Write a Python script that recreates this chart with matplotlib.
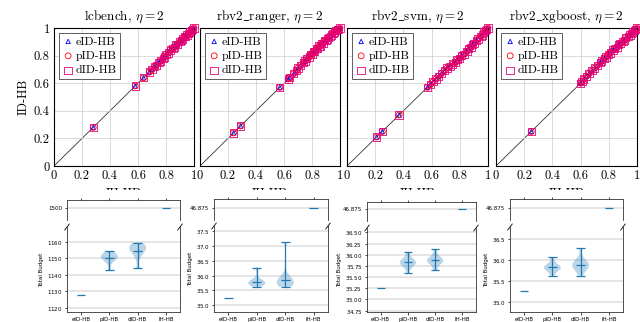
import matplotlib.pyplot as plt
from matplotlib.patches import Rectangle

plt.rcParams['mathtext.fontset'] = 'cm'
plt.rcParams['axes.formatter.use_mathtext'] = True

W, H = 640, 322

# top row: ID-HB vs IH-HB (normalised)
TITLES = ['lcbench', r'rbv2$\_$ranger', r'rbv2$\_$svm', r'rbv2$\_$xgboost']
METHODS = ['eID-HB', 'pID-HB', 'dID-HB']
GRID_TICKS = [0, 0.2, 0.4, 0.6, 0.8, 1]
GRID_LABELS = ['0', '0.2', '0.4', '0.6', '0.8', '1']

ih_lcbench = [0.28, 0.58, 0.64, 0.68, 0.70, 0.72, 0.73, 0.75, 0.76, 0.78, 0.79, 0.80,
              0.82, 0.83, 0.85, 0.86, 0.87, 0.88, 0.90, 0.91, 0.92, 0.93, 0.94, 0.95,
              0.96, 0.97, 0.98, 0.99, 1.00]
id_lcbench = [0.28, 0.58, 0.64, 0.68, 0.70, 0.72, 0.73, 0.75, 0.76, 0.78, 0.79, 0.81,
              0.82, 0.84, 0.85, 0.86, 0.88, 0.88, 0.90, 0.91, 0.92, 0.94, 0.94, 0.95,
              0.96, 0.97, 0.98, 0.99, 1.00]

ih_ranger = [0.24, 0.29, 0.57, 0.63, 0.64, 0.67, 0.69, 0.70, 0.72, 0.74, 0.75, 0.76,
             0.78, 0.79, 0.80, 0.81, 0.82, 0.83, 0.84, 0.85, 0.86, 0.87, 0.88, 0.89,
             0.90, 0.91, 0.92, 0.93, 0.94, 0.95, 0.96, 0.97, 0.98, 0.99, 1.00]
id_ranger = [0.24, 0.29, 0.57, 0.63, 0.64, 0.67, 0.69, 0.71, 0.73, 0.75, 0.76, 0.78,
             0.79, 0.81, 0.81, 0.83, 0.83, 0.85, 0.85, 0.87, 0.87, 0.89, 0.89, 0.91,
             0.91, 0.92, 0.93, 0.94, 0.95, 0.96, 0.97, 0.98, 0.99, 0.99, 1.00]

ih_svm = [0.21, 0.25, 0.37, 0.57, 0.59, 0.61, 0.63, 0.65, 0.67, 0.69, 0.71, 0.73,
          0.75, 0.77, 0.78, 0.80, 0.81, 0.83, 0.85, 0.86, 0.88, 0.89, 0.90, 0.92,
          0.93, 0.95, 0.96, 0.97, 0.98, 0.99, 1.00]
id_svm = [0.21, 0.25, 0.37, 0.57, 0.59, 0.61, 0.63, 0.65, 0.67, 0.69, 0.71, 0.72,
          0.74, 0.75, 0.77, 0.78, 0.80, 0.81, 0.83, 0.85, 0.86, 0.88, 0.89, 0.91,
          0.92, 0.94, 0.95, 0.97, 0.98, 0.99, 1.00]

ih_xgb = [0.25, 0.60, 0.61, 0.62, 0.64, 0.66, 0.68, 0.70, 0.72, 0.74, 0.75, 0.77,
          0.78, 0.80, 0.81, 0.83, 0.84, 0.86, 0.87, 0.88, 0.90, 0.91, 0.92, 0.94,
          0.95, 0.96, 0.97, 0.98, 0.99, 1.00]
id_xgb = [0.25, 0.60, 0.61, 0.63, 0.65, 0.67, 0.69, 0.71, 0.73, 0.75, 0.76, 0.78,
          0.79, 0.81, 0.82, 0.84, 0.85, 0.86, 0.88, 0.89, 0.90, 0.91, 0.93, 0.94,
          0.95, 0.96, 0.97, 0.98, 0.99, 1.00]

SCATTER = [(ih_lcbench, id_lcbench), (ih_ranger, id_ranger), (ih_svm, id_svm), (ih_xgb, id_xgb)]

# bottom row: total budget per method
CATEGORIES = ['eID-HB', 'pID-HB', 'dID-HB', 'IH-HB']
e_budget = [1128, 35.25, 35.25, 35.25]
ih_budget = [1500, 46.875, 46.875, 46.875]

p_lcbench = [1143, 1148, 1149, 1150, 1150.5, 1151, 1151, 1152, 1152.5, 1153, 1154.5]
d_lcbench = [1144, 1151, 1153, 1154.5, 1155.5, 1156, 1156.5, 1157, 1157.5, 1158, 1159.5]
p_ranger = [35.62, 35.68, 35.72, 35.74, 35.75, 35.76, 35.77, 35.78, 35.80, 35.83, 36.27]
d_ranger = [35.62, 35.66, 35.68, 35.70, 35.72, 35.73, 35.74, 35.75, 35.76, 35.77, 35.78,
            35.79, 35.80, 35.81, 35.83, 35.85, 35.88, 35.92, 36.00, 37.13]
p_svm = [35.60, 35.72, 35.78, 35.80, 35.82, 35.83, 35.84, 35.86, 35.88, 35.94, 36.07]
d_svm = [35.65, 35.76, 35.82, 35.85, 35.86, 35.87, 35.88, 35.90, 35.92, 35.98, 36.12]
p_xgb = [35.63, 35.72, 35.77, 35.80, 35.81, 35.82, 35.83, 35.85, 35.87, 35.93, 36.07]
d_xgb = [35.63, 35.74, 35.80, 35.84, 35.86, 35.88, 35.90, 35.92, 35.95, 36.02, 36.28]

VIOLINS = [(p_lcbench, d_lcbench), (p_ranger, d_ranger), (p_svm, d_svm), (p_xgb, d_xgb)]

LOWER_YTICKS = [[1120, 1130, 1140, 1150, 1160],
                [35.0, 35.5, 36.0, 36.5, 37.0, 37.5],
                [34.75, 35.0, 35.25, 35.5, 35.75, 36.0, 36.25, 36.5],
                [35.0, 35.5, 36.0, 36.5]]
LOWER_YLIM = [(1117.6, 1169), (34.77, 37.67), (34.72, 36.6), (34.76, 36.79)]
UPPER_YLIM = [(1493, 1505), (46.48, 47.15), (46.6, 47.05), (46.6, 47.1)]

# pixel boxes (left, right, top, bottom)
TOP_BOX = [(54, 194), (200, 340), (347, 488), (496, 637)]
TOP_Y = (28, 166)
BOT_X = [(67, 180), (214, 328), (367, 476), (510, 623)]
BOT_UP = [(200, 220), (199, 220), (202, 221), (199, 220)]
BOT_LO = [(227, 312), (226, 312), (228, 312), (227, 312)]


def px_axes(fig, x0, x1, y0, y1, **kw):
    return fig.add_axes([x0 / W, 1 - y1 / H, (x1 - x0) / W, (y1 - y0) / H], **kw)


fig = plt.figure(figsize=(6.4, 3.22), dpi=100)
cm = 'cmr10'
colors = ['#0000ff', '#ff0000', '#e6007e']
markers = ['^', 'o', 's']
sizes = [10, 18, 28]

for i in range(4):
    x0, x1 = TOP_BOX[i]
    ax = px_axes(fig, x0, x1, *TOP_Y)
    ih, idv = SCATTER[i]
    ax.plot([0, 1], [0, 1], color='#333333', lw=0.6, zorder=1)
    for m in range(3):
        ax.scatter(ih, idv, marker=markers[m], s=sizes[m], facecolors='none',
                   edgecolors=colors[m], linewidths=0.6, label=METHODS[m], zorder=3,
                   clip_on=False)
    ax.set_xlim(0, 1)
    ax.set_ylim(0, 1)
    ax.set_xticks(GRID_TICKS)
    ax.set_xticklabels(GRID_LABELS, family=cm, fontsize=9)
    ax.set_yticks(GRID_TICKS)
    if i == 0:
        ax.set_yticklabels(GRID_LABELS, family=cm, fontsize=9)
        ax.set_ylabel('ID-HB', family=cm, fontsize=9, labelpad=3)
    else:
        ax.set_yticklabels([])
    ax.tick_params(direction='in', length=0, pad=3)
    ax.grid(True, color='#cccccc', lw=0.5)
    for s in ax.spines.values():
        s.set_linewidth(0.8)
    ax.set_title(TITLES[i] + r', $\eta = 2$', family=cm, fontsize=9.5, pad=6)
    ax.set_xlabel('IH-HB', family=cm, fontsize=9, labelpad=4)
    leg = ax.legend(loc='upper left', prop={'family': cm, 'size': 8.5}, fancybox=False,
                    edgecolor='#444444', framealpha=1, handletextpad=0.1, handlelength=1.0,
                    borderpad=0.3, labelspacing=0.35, borderaxespad=0.4)
    leg.get_frame().set_linewidth(0.6)
    leg.set_zorder(5)

# white cover over the lower part of the xlabels (bottom figures pasted on top)
fig.patches.append(Rectangle((0, 0), 1, 1 - 190 / H, transform=fig.transFigure,
                             facecolor='white', edgecolor='none', zorder=4))

for i in range(4):
    x0, x1 = BOT_X[i]
    axu = px_axes(fig, x0, x1, *BOT_UP[i], zorder=5)
    axl = px_axes(fig, x0, x1, *BOT_LO[i], zorder=5)
    p, d = VIOLINS[i]
    for ax in (axu, axl):
        parts = ax.violinplot([p, d], positions=[2, 3], widths=0.6, showmeans=True)
        for b in parts['bodies']:
            b.set_alpha(0.3)
        for k in ('cbars', 'cmins', 'cmaxes', 'cmeans'):
            parts[k].set_linewidth(0.9)
        ax.hlines([e_budget[i], ih_budget[i]], [0.85, 3.85], [1.15, 4.15],
                  color='C0', lw=0.9)
        ax.set_xlim(0.5, 4.5)
        ax.yaxis.grid(True, color='#e3e3e3', lw=1.3)
        ax.set_axisbelow(True)
        ax.tick_params(labelsize=4, length=1.8, width=0.5, pad=1.5)
        for s in ax.spines.values():
            s.set_linewidth(0.6)
            s.set_color('#333333')
    axu.set_ylim(*UPPER_YLIM[i])
    axu.set_yticks([ih_budget[i]])
    axu.set_yticklabels([f'{ih_budget[i]:g}'])
    axu.spines['bottom'].set_visible(False)
    axu.xaxis.tick_top()
    axu.set_xticks([1, 2, 3, 4])
    axu.set_xticklabels([])
    axl.set_ylim(*LOWER_YLIM[i])
    axl.set_yticks(LOWER_YTICKS[i])
    axl.spines['top'].set_visible(False)
    axl.set_xticks([1, 2, 3, 4])
    axl.set_xticklabels(CATEGORIES)
    axl.set_ylabel('Total Budget', fontsize=4, labelpad=2)
    dx, dy = 0.02, 0.035
    for xx in (0, 1):
        axl.plot((xx - dx, xx + dx), (1 - dy, 1 + dy), transform=axl.transAxes,
                 color='k', lw=0.6, clip_on=False)

fig.savefig('out.png', dpi=100)
